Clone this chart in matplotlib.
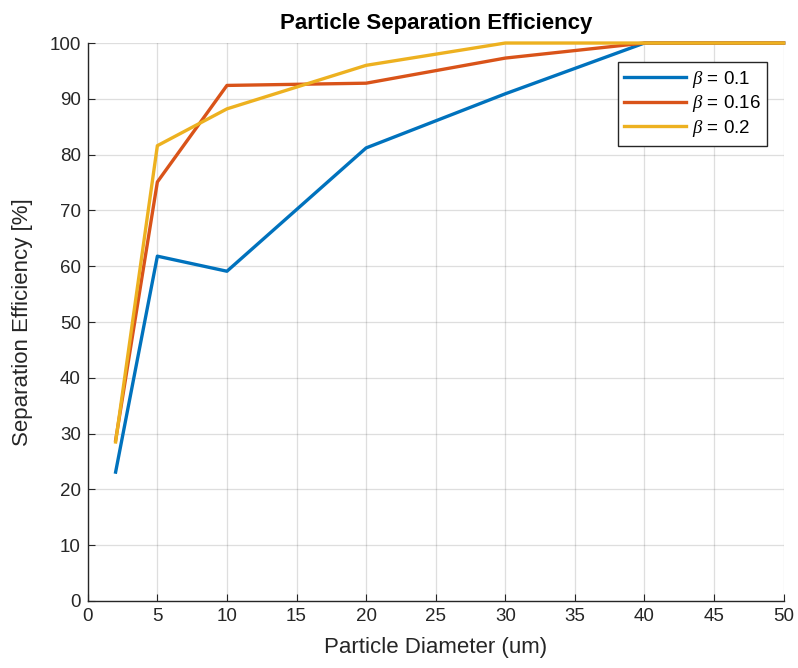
import matplotlib
matplotlib.use("Agg")
import matplotlib.pyplot as plt

plt.rcParams["font.family"] = ["Liberation Sans", "DejaVu Sans"]
plt.rcParams["mathtext.fontset"] = "custom"
plt.rcParams["mathtext.it"] = "Liberation Serif:italic"

diameter = [2, 5, 10, 20, 30, 40, 50]
eff_b01 = [23.1, 61.8, 59.1, 81.2, 90.9, 100, 100]
eff_b016 = [28.8, 75.1, 92.4, 92.8, 97.3, 100, 100]
eff_b02 = [28.5, 81.6, 88.2, 96.0, 100, 100, 100]
labels = [r"$\beta$ = 0.1", r"$\beta$ = 0.16", r"$\beta$ = 0.2"]
colors = ["#0072BD", "#D95319", "#EDB120"]

fig = plt.figure(figsize=(7.98, 6.68), dpi=100)
ax = fig.add_axes([0.110, 0.1003, 0.872, 0.8353])

for y, lab, c in zip([eff_b01, eff_b016, eff_b02], labels, colors):
    ax.plot(diameter, y, color=c, linewidth=2.4, label=lab, clip_on=False)

ax.set_xlim(0, 50)
ax.set_ylim(0, 100)
ax.set_xticks(range(0, 51, 5))
ax.set_yticks(range(0, 101, 10))
ax.grid(True, color="#262626", alpha=0.15, linewidth=0.9)
ax.tick_params(direction="in", labelsize=13.5, colors="#262626", length=5, pad=5)
ax.spines["top"].set_visible(False)
ax.spines["right"].set_visible(False)
for s in ["left", "bottom"]:
    ax.spines[s].set_color("#262626")
    ax.spines[s].set_linewidth(1.0)

ax.set_xlabel("Particle Diameter (um)", fontsize=16, color="#262626", labelpad=9)
ax.set_ylabel("Separation Efficiency [%]", fontsize=16, color="#262626", labelpad=12)
ax.set_title("Particle Separation Efficiency", fontsize=16, fontweight="bold", pad=10)

leg = ax.legend(loc="upper right", bbox_to_anchor=(0.976, 0.966), fontsize=13.5,
                fancybox=False, framealpha=1, edgecolor="#262626",
                handlelength=3.3, handletextpad=0.3, borderpad=0.35,
                labelspacing=0.2, borderaxespad=0)
leg.get_frame().set_linewidth(1.0)

fig.savefig("out.png", dpi=100)
